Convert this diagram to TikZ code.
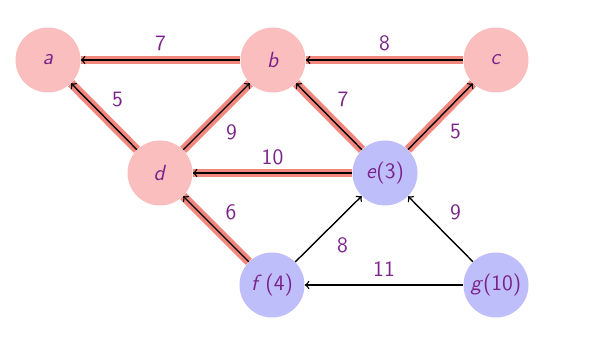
\documentclass[tikz,border=0pt]{standalone}
\usepackage{xcolor}
\definecolor{nodepink}{RGB}{250,190,190}
\definecolor{nodeblue}{RGB}{190,190,250}
\definecolor{hlred}{RGB}{242,135,125}
\definecolor{txtpurple}{RGB}{122,34,138}
\begin{document}
\begin{tikzpicture}[
  vert/.style={circle, minimum size=1.3cm, inner sep=0pt, text=txtpurple,
    font=\fontsize{12.5}{14}\selectfont\sffamily},
  pinkv/.style={vert, fill=nodepink},
  bluev/.style={vert, fill=nodeblue},
  arr/.style={->, line width=0.8pt, black},
  hl/.style={arr, preaction={draw=hlred, line width=5pt, -}},
  lbl/.style={text=txtpurple, font=\fontsize{12.5}{14}\selectfont\sffamily, inner sep=0pt}
]
\useasboundingbox (0,0) rectangle (12,6.78);
\node[pinkv] (a) at (0.96,5.58) {\textit{a}};
\node[pinkv] (b) at (5.46,5.58) {\textit{b}};
\node[pinkv] (c) at (9.92,5.58) {\textit{c}};
\node[pinkv] (d) at (3.2,3.32) {\textit{d}};
\node[bluev] (e) at (7.7,3.32) {\textit{e}(3)};
\node[bluev] (f) at (5.44,1.08) {\textit{f}\,(4)};
\node[bluev] (g) at (9.92,1.08) {\textit{g}(10)};

\draw[hl] (b) -- node[lbl, shift={(0,0.33)}] (l1) {7} (a);
\draw[hl] (c) -- node[lbl, shift={(0,0.33)}] (l2) {8} (b);
\draw[hl] (d) -- node[lbl, shift={(0.27,0.33)}] (l3) {5} (a);
\draw[hl] (d) -- node[lbl, shift={(0.30,-0.31)}] (l4) {9} (b);
\draw[hl] (e) -- node[lbl, shift={(0.28,0.34)}] (l5) {7} (b);
\draw[hl] (e) -- node[lbl, shift={(0.30,-0.31)}] (l6) {5} (c);
\draw[hl] (e) -- node[lbl, shift={(0,0.32)}] (l7) {10} (d);
\draw[hl] (f) -- node[lbl, shift={(0.30,0.34)}] (l8) {6} (d);
\draw[arr] (f) -- node[lbl, shift={(0.28,-0.32)}] (l9) {8} (e);
\draw[arr] (g) -- node[lbl, shift={(0.30,0.33)}] (l10) {9} (e);
\draw[arr] (g) -- node[lbl, shift={(0,0.32)}] (l11) {11} (f);
\end{tikzpicture}
\end{document}
